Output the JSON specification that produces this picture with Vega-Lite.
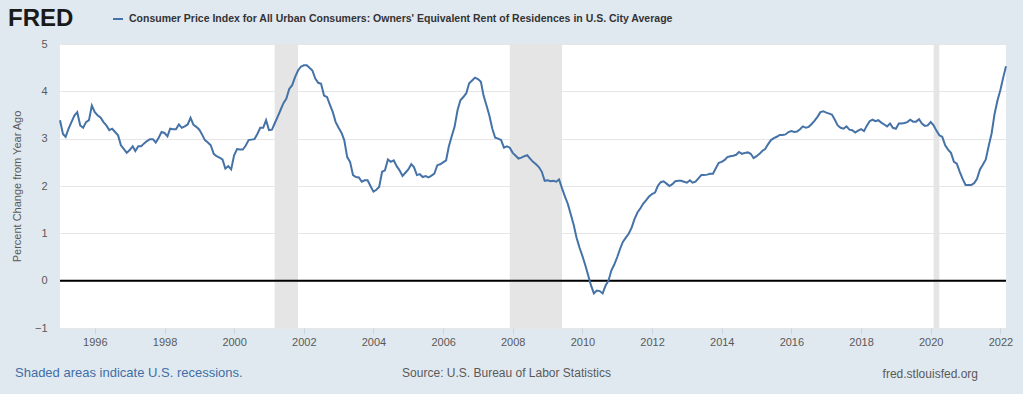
{
  "$schema": "https://vega.github.io/schema/vega-lite/v6.json",
  "width": 946,
  "height": 284,
  "autosize": {"type": "none"},
  "padding": {"left": 60, "top": 44, "right": 17, "bottom": 66},
  "background": "#e1e9f0",
  "config": {
    "view": {"fill": "white", "stroke": null},
    "font": "Liberation Sans"
  },
  "title": {
    "text": "fred.stlouisfed.org",
    "orient": "bottom",
    "anchor": "end",
    "frame": "group",
    "fontSize": 12,
    "fontWeight": "normal",
    "color": "#595959",
    "dx": -28,
    "offset": 0,
    "dy": -11
  },
  "datasets": {
    "recessions": [
      {"start": "2001-03-01", "end": "2001-11-01"},
      {"start": "2007-12-01", "end": "2009-06-01"},
      {"start": "2020-02-01", "end": "2020-04-01"}
    ],
    "zero": [{"level": 0}],
    "oer": [
      {"date": "1995-01-01", "pct": 3.39}, {"date": "1995-02-01", "pct": 3.10}, {"date": "1995-03-01", "pct": 3.04}, {"date": "1995-04-01", "pct": 3.21}, {"date": "1995-05-01", "pct": 3.35}, {"date": "1995-06-01", "pct": 3.49}, {"date": "1995-07-01", "pct": 3.56}, {"date": "1995-08-01", "pct": 3.28}, {"date": "1995-09-01", "pct": 3.23}, {"date": "1995-10-01", "pct": 3.35}, {"date": "1995-11-01", "pct": 3.39}, {"date": "1995-12-01", "pct": 3.70},
      {"date": "1996-01-01", "pct": 3.56}, {"date": "1996-02-01", "pct": 3.49}, {"date": "1996-03-01", "pct": 3.45}, {"date": "1996-04-01", "pct": 3.35}, {"date": "1996-05-01", "pct": 3.28}, {"date": "1996-06-01", "pct": 3.18}, {"date": "1996-07-01", "pct": 3.21}, {"date": "1996-08-01", "pct": 3.14}, {"date": "1996-09-01", "pct": 3.07}, {"date": "1996-10-01", "pct": 2.86}, {"date": "1996-11-01", "pct": 2.78}, {"date": "1996-12-01", "pct": 2.70},
      {"date": "1997-01-01", "pct": 2.76}, {"date": "1997-02-01", "pct": 2.84}, {"date": "1997-03-01", "pct": 2.74}, {"date": "1997-04-01", "pct": 2.84}, {"date": "1997-05-01", "pct": 2.84}, {"date": "1997-06-01", "pct": 2.90}, {"date": "1997-07-01", "pct": 2.95}, {"date": "1997-08-01", "pct": 2.99}, {"date": "1997-09-01", "pct": 2.99}, {"date": "1997-10-01", "pct": 2.92}, {"date": "1997-11-01", "pct": 3.02}, {"date": "1997-12-01", "pct": 3.14},
      {"date": "1998-01-01", "pct": 3.12}, {"date": "1998-02-01", "pct": 3.05}, {"date": "1998-03-01", "pct": 3.21}, {"date": "1998-04-01", "pct": 3.20}, {"date": "1998-05-01", "pct": 3.20}, {"date": "1998-06-01", "pct": 3.30}, {"date": "1998-07-01", "pct": 3.23}, {"date": "1998-08-01", "pct": 3.26}, {"date": "1998-09-01", "pct": 3.30}, {"date": "1998-10-01", "pct": 3.44}, {"date": "1998-11-01", "pct": 3.29}, {"date": "1998-12-01", "pct": 3.25},
      {"date": "1999-01-01", "pct": 3.19}, {"date": "1999-02-01", "pct": 3.08}, {"date": "1999-03-01", "pct": 2.97}, {"date": "1999-04-01", "pct": 2.92}, {"date": "1999-05-01", "pct": 2.86}, {"date": "1999-06-01", "pct": 2.68}, {"date": "1999-07-01", "pct": 2.63}, {"date": "1999-08-01", "pct": 2.60}, {"date": "1999-09-01", "pct": 2.56}, {"date": "1999-10-01", "pct": 2.37}, {"date": "1999-11-01", "pct": 2.42}, {"date": "1999-12-01", "pct": 2.35},
      {"date": "2000-01-01", "pct": 2.65}, {"date": "2000-02-01", "pct": 2.78}, {"date": "2000-03-01", "pct": 2.77}, {"date": "2000-04-01", "pct": 2.77}, {"date": "2000-05-01", "pct": 2.85}, {"date": "2000-06-01", "pct": 2.97}, {"date": "2000-07-01", "pct": 2.98}, {"date": "2000-08-01", "pct": 2.99}, {"date": "2000-09-01", "pct": 3.10}, {"date": "2000-10-01", "pct": 3.23}, {"date": "2000-11-01", "pct": 3.23}, {"date": "2000-12-01", "pct": 3.39},
      {"date": "2001-01-01", "pct": 3.18}, {"date": "2001-02-01", "pct": 3.19}, {"date": "2001-03-01", "pct": 3.32}, {"date": "2001-04-01", "pct": 3.46}, {"date": "2001-05-01", "pct": 3.60}, {"date": "2001-06-01", "pct": 3.75}, {"date": "2001-07-01", "pct": 3.84}, {"date": "2001-08-01", "pct": 4.05}, {"date": "2001-09-01", "pct": 4.13}, {"date": "2001-10-01", "pct": 4.30}, {"date": "2001-11-01", "pct": 4.44}, {"date": "2001-12-01", "pct": 4.52},
      {"date": "2002-01-01", "pct": 4.55}, {"date": "2002-02-01", "pct": 4.55}, {"date": "2002-03-01", "pct": 4.50}, {"date": "2002-04-01", "pct": 4.44}, {"date": "2002-05-01", "pct": 4.27}, {"date": "2002-06-01", "pct": 4.18}, {"date": "2002-07-01", "pct": 4.16}, {"date": "2002-08-01", "pct": 3.91}, {"date": "2002-09-01", "pct": 3.88}, {"date": "2002-10-01", "pct": 3.72}, {"date": "2002-11-01", "pct": 3.56}, {"date": "2002-12-01", "pct": 3.35},
      {"date": "2003-01-01", "pct": 3.23}, {"date": "2003-02-01", "pct": 3.12}, {"date": "2003-03-01", "pct": 2.97}, {"date": "2003-04-01", "pct": 2.61}, {"date": "2003-05-01", "pct": 2.51}, {"date": "2003-06-01", "pct": 2.23}, {"date": "2003-07-01", "pct": 2.19}, {"date": "2003-08-01", "pct": 2.18}, {"date": "2003-09-01", "pct": 2.09}, {"date": "2003-10-01", "pct": 2.12}, {"date": "2003-11-01", "pct": 2.12}, {"date": "2003-12-01", "pct": 2.00},
      {"date": "2004-01-01", "pct": 1.88}, {"date": "2004-02-01", "pct": 1.92}, {"date": "2004-03-01", "pct": 1.98}, {"date": "2004-04-01", "pct": 2.30}, {"date": "2004-05-01", "pct": 2.33}, {"date": "2004-06-01", "pct": 2.56}, {"date": "2004-07-01", "pct": 2.51}, {"date": "2004-08-01", "pct": 2.54}, {"date": "2004-09-01", "pct": 2.42}, {"date": "2004-10-01", "pct": 2.33}, {"date": "2004-11-01", "pct": 2.21}, {"date": "2004-12-01", "pct": 2.28},
      {"date": "2005-01-01", "pct": 2.35}, {"date": "2005-02-01", "pct": 2.46}, {"date": "2005-03-01", "pct": 2.40}, {"date": "2005-04-01", "pct": 2.23}, {"date": "2005-05-01", "pct": 2.25}, {"date": "2005-06-01", "pct": 2.19}, {"date": "2005-07-01", "pct": 2.21}, {"date": "2005-08-01", "pct": 2.18}, {"date": "2005-09-01", "pct": 2.22}, {"date": "2005-10-01", "pct": 2.26}, {"date": "2005-11-01", "pct": 2.44}, {"date": "2005-12-01", "pct": 2.46},
      {"date": "2006-01-01", "pct": 2.50}, {"date": "2006-02-01", "pct": 2.54}, {"date": "2006-03-01", "pct": 2.83}, {"date": "2006-04-01", "pct": 3.05}, {"date": "2006-05-01", "pct": 3.25}, {"date": "2006-06-01", "pct": 3.60}, {"date": "2006-07-01", "pct": 3.81}, {"date": "2006-08-01", "pct": 3.88}, {"date": "2006-09-01", "pct": 3.96}, {"date": "2006-10-01", "pct": 4.17}, {"date": "2006-11-01", "pct": 4.23}, {"date": "2006-12-01", "pct": 4.29},
      {"date": "2007-01-01", "pct": 4.26}, {"date": "2007-02-01", "pct": 4.20}, {"date": "2007-03-01", "pct": 3.91}, {"date": "2007-04-01", "pct": 3.70}, {"date": "2007-05-01", "pct": 3.49}, {"date": "2007-06-01", "pct": 3.21}, {"date": "2007-07-01", "pct": 3.02}, {"date": "2007-08-01", "pct": 3.00}, {"date": "2007-09-01", "pct": 2.97}, {"date": "2007-10-01", "pct": 2.81}, {"date": "2007-11-01", "pct": 2.84}, {"date": "2007-12-01", "pct": 2.81},
      {"date": "2008-01-01", "pct": 2.70}, {"date": "2008-02-01", "pct": 2.64}, {"date": "2008-03-01", "pct": 2.58}, {"date": "2008-04-01", "pct": 2.60}, {"date": "2008-05-01", "pct": 2.63}, {"date": "2008-06-01", "pct": 2.65}, {"date": "2008-07-01", "pct": 2.58}, {"date": "2008-08-01", "pct": 2.51}, {"date": "2008-09-01", "pct": 2.46}, {"date": "2008-10-01", "pct": 2.40}, {"date": "2008-11-01", "pct": 2.30}, {"date": "2008-12-01", "pct": 2.11},
      {"date": "2009-01-01", "pct": 2.12}, {"date": "2009-02-01", "pct": 2.10}, {"date": "2009-03-01", "pct": 2.11}, {"date": "2009-04-01", "pct": 2.09}, {"date": "2009-05-01", "pct": 2.14}, {"date": "2009-06-01", "pct": 1.95}, {"date": "2009-07-01", "pct": 1.78}, {"date": "2009-08-01", "pct": 1.62}, {"date": "2009-09-01", "pct": 1.40}, {"date": "2009-10-01", "pct": 1.18}, {"date": "2009-11-01", "pct": 0.90}, {"date": "2009-12-01", "pct": 0.70},
      {"date": "2010-01-01", "pct": 0.52}, {"date": "2010-02-01", "pct": 0.32}, {"date": "2010-03-01", "pct": 0.12}, {"date": "2010-04-01", "pct": -0.10}, {"date": "2010-05-01", "pct": -0.27}, {"date": "2010-06-01", "pct": -0.21}, {"date": "2010-07-01", "pct": -0.22}, {"date": "2010-08-01", "pct": -0.27}, {"date": "2010-09-01", "pct": -0.10}, {"date": "2010-10-01", "pct": 0.00}, {"date": "2010-11-01", "pct": 0.22}, {"date": "2010-12-01", "pct": 0.34},
      {"date": "2011-01-01", "pct": 0.50}, {"date": "2011-02-01", "pct": 0.68}, {"date": "2011-03-01", "pct": 0.82}, {"date": "2011-04-01", "pct": 0.91}, {"date": "2011-05-01", "pct": 0.99}, {"date": "2011-06-01", "pct": 1.12}, {"date": "2011-07-01", "pct": 1.30}, {"date": "2011-08-01", "pct": 1.44}, {"date": "2011-09-01", "pct": 1.53}, {"date": "2011-10-01", "pct": 1.63}, {"date": "2011-11-01", "pct": 1.70}, {"date": "2011-12-01", "pct": 1.78},
      {"date": "2012-01-01", "pct": 1.83}, {"date": "2012-02-01", "pct": 1.86}, {"date": "2012-03-01", "pct": 2.00}, {"date": "2012-04-01", "pct": 2.08}, {"date": "2012-05-01", "pct": 2.10}, {"date": "2012-06-01", "pct": 2.05}, {"date": "2012-07-01", "pct": 2.00}, {"date": "2012-08-01", "pct": 2.04}, {"date": "2012-09-01", "pct": 2.10}, {"date": "2012-10-01", "pct": 2.11}, {"date": "2012-11-01", "pct": 2.11}, {"date": "2012-12-01", "pct": 2.09},
      {"date": "2013-01-01", "pct": 2.07}, {"date": "2013-02-01", "pct": 2.12}, {"date": "2013-03-01", "pct": 2.07}, {"date": "2013-04-01", "pct": 2.09}, {"date": "2013-05-01", "pct": 2.16}, {"date": "2013-06-01", "pct": 2.23}, {"date": "2013-07-01", "pct": 2.23}, {"date": "2013-08-01", "pct": 2.24}, {"date": "2013-09-01", "pct": 2.26}, {"date": "2013-10-01", "pct": 2.26}, {"date": "2013-11-01", "pct": 2.38}, {"date": "2013-12-01", "pct": 2.49},
      {"date": "2014-01-01", "pct": 2.51}, {"date": "2014-02-01", "pct": 2.55}, {"date": "2014-03-01", "pct": 2.61}, {"date": "2014-04-01", "pct": 2.63}, {"date": "2014-05-01", "pct": 2.64}, {"date": "2014-06-01", "pct": 2.66}, {"date": "2014-07-01", "pct": 2.72}, {"date": "2014-08-01", "pct": 2.68}, {"date": "2014-09-01", "pct": 2.70}, {"date": "2014-10-01", "pct": 2.71}, {"date": "2014-11-01", "pct": 2.68}, {"date": "2014-12-01", "pct": 2.59},
      {"date": "2015-01-01", "pct": 2.63}, {"date": "2015-02-01", "pct": 2.68}, {"date": "2015-03-01", "pct": 2.74}, {"date": "2015-04-01", "pct": 2.78}, {"date": "2015-05-01", "pct": 2.88}, {"date": "2015-06-01", "pct": 2.97}, {"date": "2015-07-01", "pct": 3.01}, {"date": "2015-08-01", "pct": 3.04}, {"date": "2015-09-01", "pct": 3.08}, {"date": "2015-10-01", "pct": 3.08}, {"date": "2015-11-01", "pct": 3.09}, {"date": "2015-12-01", "pct": 3.14},
      {"date": "2016-01-01", "pct": 3.16}, {"date": "2016-02-01", "pct": 3.14}, {"date": "2016-03-01", "pct": 3.15}, {"date": "2016-04-01", "pct": 3.20}, {"date": "2016-05-01", "pct": 3.26}, {"date": "2016-06-01", "pct": 3.23}, {"date": "2016-07-01", "pct": 3.25}, {"date": "2016-08-01", "pct": 3.31}, {"date": "2016-09-01", "pct": 3.38}, {"date": "2016-10-01", "pct": 3.46}, {"date": "2016-11-01", "pct": 3.56}, {"date": "2016-12-01", "pct": 3.58},
      {"date": "2017-01-01", "pct": 3.55}, {"date": "2017-02-01", "pct": 3.53}, {"date": "2017-03-01", "pct": 3.51}, {"date": "2017-04-01", "pct": 3.40}, {"date": "2017-05-01", "pct": 3.28}, {"date": "2017-06-01", "pct": 3.23}, {"date": "2017-07-01", "pct": 3.21}, {"date": "2017-08-01", "pct": 3.26}, {"date": "2017-09-01", "pct": 3.19}, {"date": "2017-10-01", "pct": 3.18}, {"date": "2017-11-01", "pct": 3.13}, {"date": "2017-12-01", "pct": 3.17},
      {"date": "2018-01-01", "pct": 3.20}, {"date": "2018-02-01", "pct": 3.16}, {"date": "2018-03-01", "pct": 3.27}, {"date": "2018-04-01", "pct": 3.37}, {"date": "2018-05-01", "pct": 3.40}, {"date": "2018-06-01", "pct": 3.37}, {"date": "2018-07-01", "pct": 3.39}, {"date": "2018-08-01", "pct": 3.34}, {"date": "2018-09-01", "pct": 3.30}, {"date": "2018-10-01", "pct": 3.26}, {"date": "2018-11-01", "pct": 3.32}, {"date": "2018-12-01", "pct": 3.23},
      {"date": "2019-01-01", "pct": 3.21}, {"date": "2019-02-01", "pct": 3.32}, {"date": "2019-03-01", "pct": 3.32}, {"date": "2019-04-01", "pct": 3.33}, {"date": "2019-05-01", "pct": 3.35}, {"date": "2019-06-01", "pct": 3.40}, {"date": "2019-07-01", "pct": 3.36}, {"date": "2019-08-01", "pct": 3.36}, {"date": "2019-09-01", "pct": 3.41}, {"date": "2019-10-01", "pct": 3.32}, {"date": "2019-11-01", "pct": 3.27}, {"date": "2019-12-01", "pct": 3.28},
      {"date": "2020-01-01", "pct": 3.35}, {"date": "2020-02-01", "pct": 3.28}, {"date": "2020-03-01", "pct": 3.17}, {"date": "2020-04-01", "pct": 3.07}, {"date": "2020-05-01", "pct": 3.04}, {"date": "2020-06-01", "pct": 2.86}, {"date": "2020-07-01", "pct": 2.77}, {"date": "2020-08-01", "pct": 2.70}, {"date": "2020-09-01", "pct": 2.51}, {"date": "2020-10-01", "pct": 2.47}, {"date": "2020-11-01", "pct": 2.30}, {"date": "2020-12-01", "pct": 2.15},
      {"date": "2021-01-01", "pct": 2.02}, {"date": "2021-02-01", "pct": 2.02}, {"date": "2021-03-01", "pct": 2.02}, {"date": "2021-04-01", "pct": 2.06}, {"date": "2021-05-01", "pct": 2.15}, {"date": "2021-06-01", "pct": 2.35}, {"date": "2021-07-01", "pct": 2.45}, {"date": "2021-08-01", "pct": 2.56}, {"date": "2021-09-01", "pct": 2.85}, {"date": "2021-10-01", "pct": 3.11}, {"date": "2021-11-01", "pct": 3.52}, {"date": "2021-12-01", "pct": 3.80},
      {"date": "2022-01-01", "pct": 4.03}, {"date": "2022-02-01", "pct": 4.30}, {"date": "2022-03-01", "pct": 4.53}
    ]
  },
  "layer": [
    {
      "data": {"name": "recessions"},
      "mark": {"type": "rect", "color": "#e5e5e5"},
      "encoding": {
        "x": {
          "field": "start",
          "type": "temporal",
          "scale": {"type": "utc", "domain": ["1995-01-01", "2022-03-01"]},
          "axis": {
            "tickCount": {"interval": "year", "step": 2},
            "format": "%Y",
            "formatType": "utc",
            "grid": false,
            "domain": false,
            "ticks": true,
            "tickSize": 6,
            "tickColor": "#c8d6e4",
            "labelPadding": 2,
            "labelFontSize": 11,
            "labelColor": "#595959",
            "labelFont": "Liberation Sans",
            "title": "Source: U.S. Bureau of Labor Statistics",
            "titleFontSize": 12,
            "titleFontWeight": "normal",
            "titleColor": "#595959",
            "titleAnchor": "start",
            "titleAlign": "center",
            "titleBaseline": "middle",
            "titleX": 446,
            "titleY": 44
          }
        },
        "x2": {"field": "end"},
        "fill": {
          "datum": "Shaded areas indicate U.S. recessions.",
          "type": "nominal",
          "scale": {"range": ["#e5e5e5"]},
          "legend": {
            "orient": "none",
            "legendX": -58,
            "legendY": 322,
            "title": null,
            "symbolSize": 0,
            "symbolOpacity": 0,
            "symbolStrokeWidth": 0,
            "labelOffset": 0,
            "labelFontSize": 13,
            "labelColor": "#3f6ea6",
            "labelLimit": 0
          }
        }
      }
    },
    {
      "data": {"name": "zero"},
      "mark": {"type": "rule", "color": "#000000", "strokeWidth": 2},
      "encoding": {"y": {"field": "level", "type": "quantitative"}}
    },
    {
      "data": {"name": "oer"},
      "mark": {"type": "line", "strokeWidth": 2, "interpolate": "linear"},
      "encoding": {
        "x": {"field": "date", "type": "temporal"},
        "y": {
          "field": "pct",
          "type": "quantitative",
          "scale": {"domain": [-1, 5], "nice": false, "zero": false},
          "axis": {
            "values": [-1, 0, 1, 2, 3, 4, 5],
            "grid": true,
            "gridColor": "#e6e6e6",
            "domain": false,
            "ticks": false,
            "labelPadding": 13,
            "labelFontSize": 11,
            "labelColor": "#595959",
            "title": "Percent Change from Year Ago",
            "titleFontSize": 11,
            "titleFontWeight": "normal",
            "titleColor": "#595959",
            "titlePadding": 12
          }
        },
        "color": {
          "datum": "Consumer Price Index for All Urban Consumers: Owners' Equivalent Rent of Residences in U.S. City Average",
          "type": "nominal",
          "scale": {"range": ["#4572a7"]},
          "legend": {
            "orient": "none",
            "legendX": -52,
            "legendY": -31,
            "title": "FRED",
            "titleOrient": "left",
            "titleFontSize": 24,
            "titleFontWeight": "bold",
            "titleColor": "#1a1a1a",
            "titlePadding": 38,
            "symbolType": "stroke",
            "symbolStrokeWidth": 2,
            "symbolSize": 100,
            "labelOffset": 5,
            "labelFontSize": 10.5,
            "labelFontWeight": "bold",
            "labelColor": "#333333",
            "labelLimit": 0
          }
        }
      }
    }
  ]
}
